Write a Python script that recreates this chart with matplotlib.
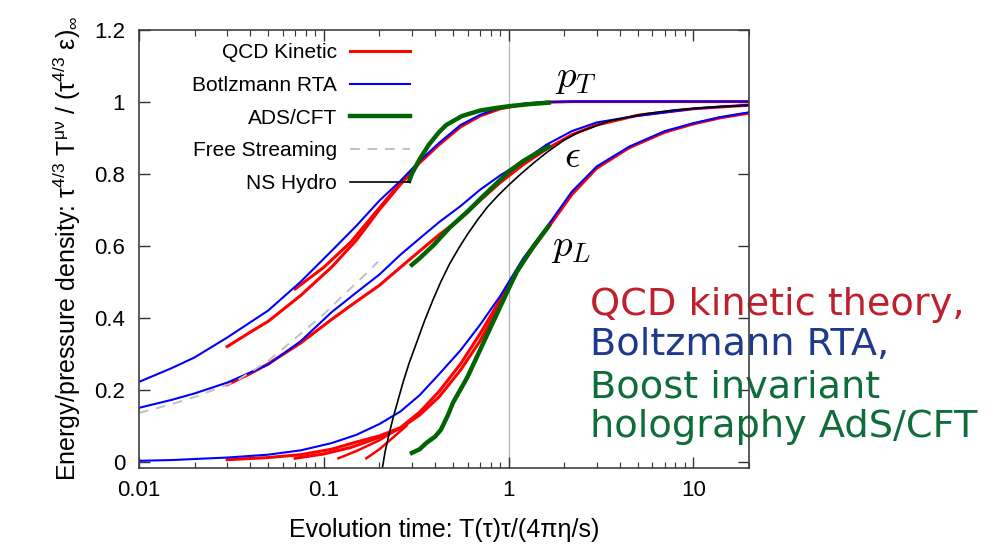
import matplotlib
matplotlib.use('Agg')
import matplotlib.pyplot as plt

matplotlib.rcParams['font.family'] = ['Liberation Sans', 'DejaVu Sans']
matplotlib.rcParams['mathtext.fontset'] = 'custom'
matplotlib.rcParams['mathtext.rm'] = 'Liberation Sans'
matplotlib.rcParams['mathtext.it'] = 'Liberation Sans:italic'
matplotlib.rcParams['mathtext.default'] = 'regular'

# Boltzmann RTA (same time grid for p_T, e, p_L)
rta_x = [0.01, 0.015, 0.02, 0.03, 0.05, 0.075, 0.11, 0.15, 0.2, 0.26, 0.33, 0.42,
         0.55, 0.7, 0.9, 1.2, 1.6, 2.2, 3.0, 4.5, 7.0, 10, 14, 20]
rta_pt = [0.222, 0.26, 0.29, 0.345, 0.42, 0.50, 0.585, 0.655, 0.725, 0.78, 0.835, 0.885,
          0.935, 0.963, 0.983, 0.994, 0.999, 1.0, 1.0, 1.0, 1.0, 1.0, 1.0, 1.0]
rta_e = [0.15, 0.172, 0.19, 0.22, 0.27, 0.335, 0.415, 0.47, 0.52, 0.575, 0.62, 0.665,
         0.71, 0.755, 0.795, 0.835, 0.88, 0.918, 0.942, 0.957, 0.97, 0.98, 0.986, 0.99]
rta_pl = [0.003, 0.005, 0.008, 0.012, 0.02, 0.032, 0.052, 0.075, 0.105, 0.14, 0.185, 0.243,
          0.31, 0.38, 0.46, 0.565, 0.65, 0.75, 0.82, 0.875, 0.918, 0.94, 0.957, 0.97]

# QCD kinetic theory
qcd_pt_x = [0.03, 0.04, 0.05, 0.075, 0.11, 0.15, 0.2, 0.26, 0.33, 0.42, 0.55, 0.7,
            0.9, 1.2, 1.6, 2.2, 3.0, 5, 10, 20]
qcd_pt = [0.32, 0.36, 0.39, 0.462, 0.54, 0.615, 0.70, 0.77, 0.83, 0.88, 0.93, 0.96,
          0.98, 0.992, 0.998, 1.0, 1.0, 1.0, 1.0, 1.0]
qcd_pt2_x = [0.07, 0.1, 0.14, 0.2, 0.26, 0.33]
qcd_pt2 = [0.48, 0.54, 0.61, 0.705, 0.775, 0.832]

qcd_e_x = [0.03, 0.04, 0.05, 0.075, 0.11, 0.15, 0.2, 0.26, 0.33, 0.42, 0.55, 0.7,
           0.9, 1.2, 1.6, 2.2, 3, 5, 10, 20]
qcd_e = [0.214, 0.245, 0.272, 0.33, 0.395, 0.445, 0.49, 0.54, 0.585, 0.63, 0.675, 0.725,
         0.775, 0.825, 0.868, 0.908, 0.935, 0.962, 0.98, 0.99]

qcd_pl_x = [0.03, 0.05, 0.075, 0.11, 0.15, 0.2, 0.26, 0.33, 0.42, 0.55, 0.7, 0.9,
            1.2, 1.6, 2.2, 3, 4.5, 7, 10, 14, 20]
qcd_pl = [0.006, 0.012, 0.02, 0.035, 0.055, 0.072, 0.095, 0.138, 0.195, 0.272, 0.355, 0.45,
          0.555, 0.643, 0.742, 0.815, 0.872, 0.915, 0.938, 0.955, 0.968]
qcd_pl2_x = [0.07, 0.1, 0.14, 0.2, 0.26, 0.33, 0.42, 0.55, 0.7, 0.9, 1.1]
qcd_pl2 = [0.01, 0.022, 0.04, 0.068, 0.093, 0.13, 0.18, 0.255, 0.335, 0.44, 0.52]
qcd_pl3_x = [0.12, 0.15, 0.2, 0.25]
qcd_pl3 = [0.01, 0.03, 0.06, 0.09]
qcd_pl4_x = [0.17, 0.2, 0.24, 0.28]
qcd_pl4 = [0.01, 0.035, 0.07, 0.1]

# AdS/CFT
ads_pt_x = [0.29, 0.3, 0.33, 0.37, 0.42, 0.46, 0.56, 0.7, 0.85, 1.0, 1.3, 1.65]
ads_pt = [0.78, 0.8, 0.84, 0.88, 0.915, 0.935, 0.96, 0.975, 0.982, 0.987, 0.993, 0.997]
ads_e_x = [0.3, 0.33, 0.39, 0.48, 0.6, 0.72, 0.83, 1.0, 1.2, 1.4, 1.65]
ads_e = [0.547, 0.565, 0.6, 0.65, 0.695, 0.735, 0.765, 0.805, 0.835, 0.855, 0.875]
ads_pl_x = [0.3, 0.33, 0.36, 0.4, 0.43, 0.47, 0.5, 0.6, 0.73, 0.9, 1.1, 1.37, 1.65]
ads_pl = [0.025, 0.035, 0.053, 0.07, 0.089, 0.13, 0.164, 0.236, 0.33, 0.43, 0.525, 0.6, 0.655]

# free streaming
fs_x = [0.01, 0.015, 0.02, 0.033, 0.05, 0.076, 0.1, 0.126, 0.16, 0.197]
fs_e = [0.136, 0.16, 0.18, 0.222, 0.28, 0.358, 0.41, 0.46, 0.51, 0.556]

# Navier-Stokes hydro
ns_x = [0.207, 0.215, 0.225, 0.238, 0.255, 0.27, 0.29, 0.32, 0.35, 0.39, 0.43, 0.48,
        0.54, 0.6, 0.68, 0.77, 0.88, 1.0, 1.17, 1.37, 1.62, 2.0, 2.4, 3.5, 5.5, 8, 12, 20]
ns_e = [-0.02, 0.03, 0.075, 0.125, 0.18, 0.225, 0.275, 0.335, 0.39, 0.45, 0.5, 0.55,
        0.595, 0.632, 0.672, 0.708, 0.74, 0.768, 0.8, 0.83, 0.86, 0.893, 0.915, 0.946,
        0.966, 0.977, 0.984, 0.99]

xticks = [0.01, 0.1, 1, 10]
xticklabels = ['0.01', '0.1', '1', '10']
yticks = [0, 0.2, 0.4, 0.6, 0.8, 1.0, 1.2]
yticklabels = ['0', '0.2', '0.4', '0.6', '0.8', '1', '1.2']

legend_labels = ['QCD Kinetic', 'Botlzmann RTA', 'ADS/CFT', 'Free Streaming', 'NS Hydro']
side_text = [('QCD kinetic theory,', '#c01f2c'),
             ('Boltzmann RTA,', '#1f3a8c'),
             ('Boost invariant', '#0f6d3a'),
             ('holography AdS/CFT', '#0f6d3a')]

W, H = 995, 551
fig = plt.figure(figsize=(W / 100, H / 100), dpi=100)
ax = fig.add_axes([139 / W, 1 - 468 / H, 610 / W, 438.5 / H])

RED, BLUE, GREEN = '#ff0000', '#0000ff', '#006400'

ax.axvline(1, color='#b4b4b4', lw=0.9, zorder=1)

h_qcd, = ax.plot(qcd_pt_x, qcd_pt, color=RED, lw=2.2)
ax.plot(qcd_pt2_x, qcd_pt2, color=RED, lw=2.2)
ax.plot(qcd_e_x, qcd_e, color=RED, lw=2.2)
ax.plot(qcd_pl_x, qcd_pl, color=RED, lw=2.2)
ax.plot(qcd_pl2_x, qcd_pl2, color=RED, lw=2.2)
ax.plot(qcd_pl3_x, qcd_pl3, color=RED, lw=1.8)
ax.plot(qcd_pl4_x, qcd_pl4, color=RED, lw=1.8)

h_rta, = ax.plot(rta_x, rta_pt, color=BLUE, lw=1.5)
ax.plot(rta_x, rta_e, color=BLUE, lw=1.5)
ax.plot(rta_x, rta_pl, color=BLUE, lw=1.5)

h_ads, = ax.plot(ads_pt_x, ads_pt, color=GREEN, lw=3.2)
ax.plot(ads_e_x, ads_e, color=GREEN, lw=3.2)
ax.plot(ads_pl_x, ads_pl, color=GREEN, lw=3.2)

h_fs, = ax.plot(fs_x, fs_e, color='#c0c0c0', lw=1.4, dashes=(5, 4))
h_ns, = ax.plot(ns_x, ns_e, color='black', lw=1.2)

ax.set_xscale('log')
ax.set_xlim(0.01, 20)
ax.set_ylim(-0.017, 1.2)
ax.set_xticks(xticks)
ax.set_xticklabels(xticklabels)
ax.set_yticks(yticks)
ax.set_yticklabels(yticklabels)
ax.tick_params(which='both', direction='in', top=True, right=True, colors='#333333',
               labelcolor='black', labelsize=16)
ax.tick_params(which='major', length=8, width=1.0)
ax.tick_params(which='minor', length=4, width=0.8)
ax.tick_params(axis='y', pad=10)
ax.tick_params(axis='x', pad=9)
for sp in ax.spines.values():
    sp.set_color('#404040')
    sp.set_linewidth(1.2)

ax.set_xlabel('Evolution time: T(τ)τ/(4πη/s)', fontsize=18, labelpad=12)
ax.set_ylabel(r'Energy/pressure density: $\tau^{4/3}$ T$^{\mu\nu}$ / ($\tau^{4/3}$ $\epsilon$)$_\infty$',
              fontsize=18, labelpad=8)

ax.legend([h_qcd, h_rta, h_ads, h_fs, h_ns], legend_labels, loc='upper right',
          bbox_to_anchor=(0.444, 0.969), markerfirst=False, frameon=False, fontsize=15,
          handlelength=2.85, handletextpad=0.65, labelspacing=0.66, borderpad=0,
          borderaxespad=0)

ax.text(1.78, 1.065, r'$\mathit{p}_{\mathit{T}}$', fontsize=28, math_fontfamily='cm', va='center')
ax.text(1.99, 0.847, r'$\mathit{\epsilon}$', fontsize=28, math_fontfamily='cm', va='center')
ax.text(1.69, 0.597, r'$\mathit{p}_{\mathit{L}}$', fontsize=28, math_fontfamily='cm', va='center')

baselines = [315, 355, 398, 437]
for (txt, col), yb in zip(side_text, baselines):
    ax.text(590 / W, 1 - yb / H, txt, transform=fig.transFigure, fontsize=27.5,
            family='DejaVu Sans', color=col, va='baseline', clip_on=False, zorder=2)

fig.savefig('out.png', dpi=100)
